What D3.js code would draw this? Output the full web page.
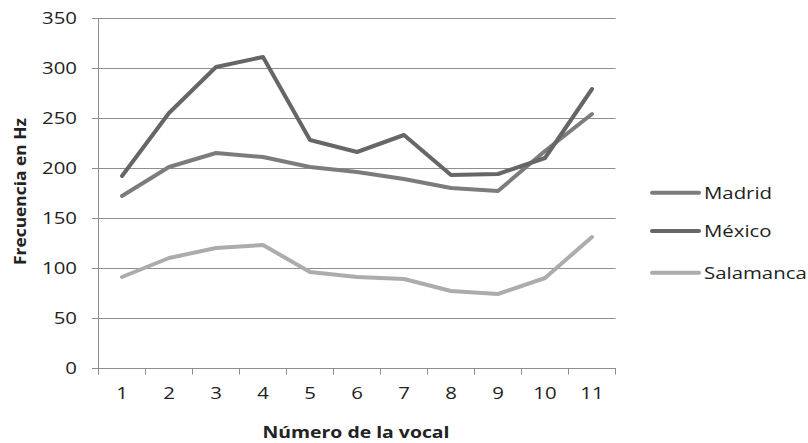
<!DOCTYPE html>
<html>
<head>
<meta charset="utf-8">
<script src="https://cdn.jsdelivr.net/npm/d3@7/dist/d3.min.js"></script>
<style>
  html, body { margin: 0; padding: 0; background: #fff; }
  svg { display: block; }
  text { font-family: "Open Sans", "DejaVu Sans", sans-serif; fill: #222; }
</style>
</head>
<body>
<svg id="chart" width="808" height="443"></svg>
<script>
// Vowel number along the x axis
const vocales = ["1", "2", "3", "4", "5", "6", "7", "8", "9", "10", "11"];

// Fundamental frequency (Hz) per vowel for each city
const madrid    = [172, 201, 215, 211, 201, 196, 189, 180, 177, 217, 254];
const mexico    = [192, 255, 301, 311, 228, 216, 233, 193, 194, 210, 279];
const salamanca = [ 91, 110, 120, 123,  96,  91,  89,  77,  74,  90, 131];

const yTicks = [0, 50, 100, 150, 200, 250, 300, 350];

const series = [
  { name: "Madrid",    values: madrid,    color: "#7c7c7c" },
  { name: "México",    values: mexico,    color: "#666666" },
  { name: "Salamanca", values: salamanca, color: "#acacac" }
];

const svg = d3.select("#chart");
const plot = { left: 98.5, right: 615.5, top: 18, bottom: 368 };
const gridColor = "#8e8e8e";
const stretchX = 1.2;

// Widen text horizontally around its anchor point
function stretch(sel, k) {
  sel.each(function () {
    const t = d3.select(this);
    const x = +t.attr("x") || 0;
    t.attr("transform", `translate(${x},0) scale(${k},1) translate(${-x},0)`);
  });
}

const x = d3.scaleBand().domain(vocales).range([plot.left, plot.right]);
const y = d3.scaleLinear().domain([0, 350]).range([plot.bottom, plot.top]);

// Horizontal gridlines with short outward ticks
const yAxis = svg.append("g")
  .attr("transform", `translate(${plot.left},0)`)
  .call(d3.axisLeft(y).tickValues(yTicks).tickSize(6.5).tickPadding(15));
yAxis.select(".domain").remove();
yAxis.selectAll(".tick line").attr("x2", plot.right - plot.left).attr("x1", -6.5)
  .attr("stroke", gridColor).attr("stroke-width", 1);
yAxis.selectAll(".tick text").style("font-size", "17px").call(stretch, stretchX);

// Vertical axis line
svg.append("line")
  .attr("x1", plot.left).attr("x2", plot.left)
  .attr("y1", plot.top).attr("y2", plot.bottom + 6)
  .attr("stroke", gridColor).attr("stroke-width", 1);

// Category axis with ticks between categories
const xAxis = svg.append("g")
  .attr("transform", `translate(0,${plot.bottom})`)
  .call(d3.axisBottom(x).tickSize(0).tickPadding(19));
xAxis.select(".domain").attr("stroke", gridColor);
xAxis.selectAll(".tick text").style("font-size", "17px").call(stretch, stretchX);
const bounds = vocales.map(v => x(v)).concat([plot.right]);
xAxis.selectAll(".sep").data(bounds).join("line")
  .attr("class", "sep")
  .attr("x1", d => d).attr("x2", d => d)
  .attr("y1", 0).attr("y2", 6.5)
  .attr("stroke", gridColor).attr("stroke-width", 1);

// Series lines
const line = d3.line()
  .x((d, i) => x(vocales[i]) + x.bandwidth() / 2)
  .y(d => y(d));

svg.append("g").selectAll("path").data(series).join("path")
  .attr("d", d => line(d.values))
  .attr("fill", "none")
  .attr("stroke", d => d.color)
  .attr("stroke-width", 4)
  .attr("stroke-linejoin", "round")
  .attr("stroke-linecap", "round");

// Legend
const legendY = [192.7, 231, 272.7];
const legend = svg.append("g").selectAll("g").data(series).join("g")
  .attr("transform", (d, i) => `translate(0,${legendY[i]})`);
legend.append("line")
  .attr("x1", 652).attr("x2", 699).attr("y1", 0).attr("y2", 0)
  .attr("stroke", d => d.color).attr("stroke-width", 4)
  .attr("stroke-linecap", "round");
legend.append("text")
  .attr("x", 704).attr("dy", "0.36em")
  .style("font-size", "17px")
  .text(d => d.name)
  .call(stretch, stretchX);

// Axis titles
svg.append("text")
  .attr("x", 356).attr("y", 438)
  .attr("text-anchor", "middle")
  .style("font-size", "16px").style("font-weight", "bold")
  .attr("textLength", 187).attr("lengthAdjust", "spacingAndGlyphs")
  .text("Número de la vocal");

svg.append("text")
  .attr("transform", "translate(26,191.5) rotate(-90)")
  .attr("text-anchor", "middle")
  .style("font-size", "16px").style("font-weight", "bold")
  .attr("textLength", 147).attr("lengthAdjust", "spacingAndGlyphs")
  .text("Frecuencia en Hz");
</script>
</body>
</html>
